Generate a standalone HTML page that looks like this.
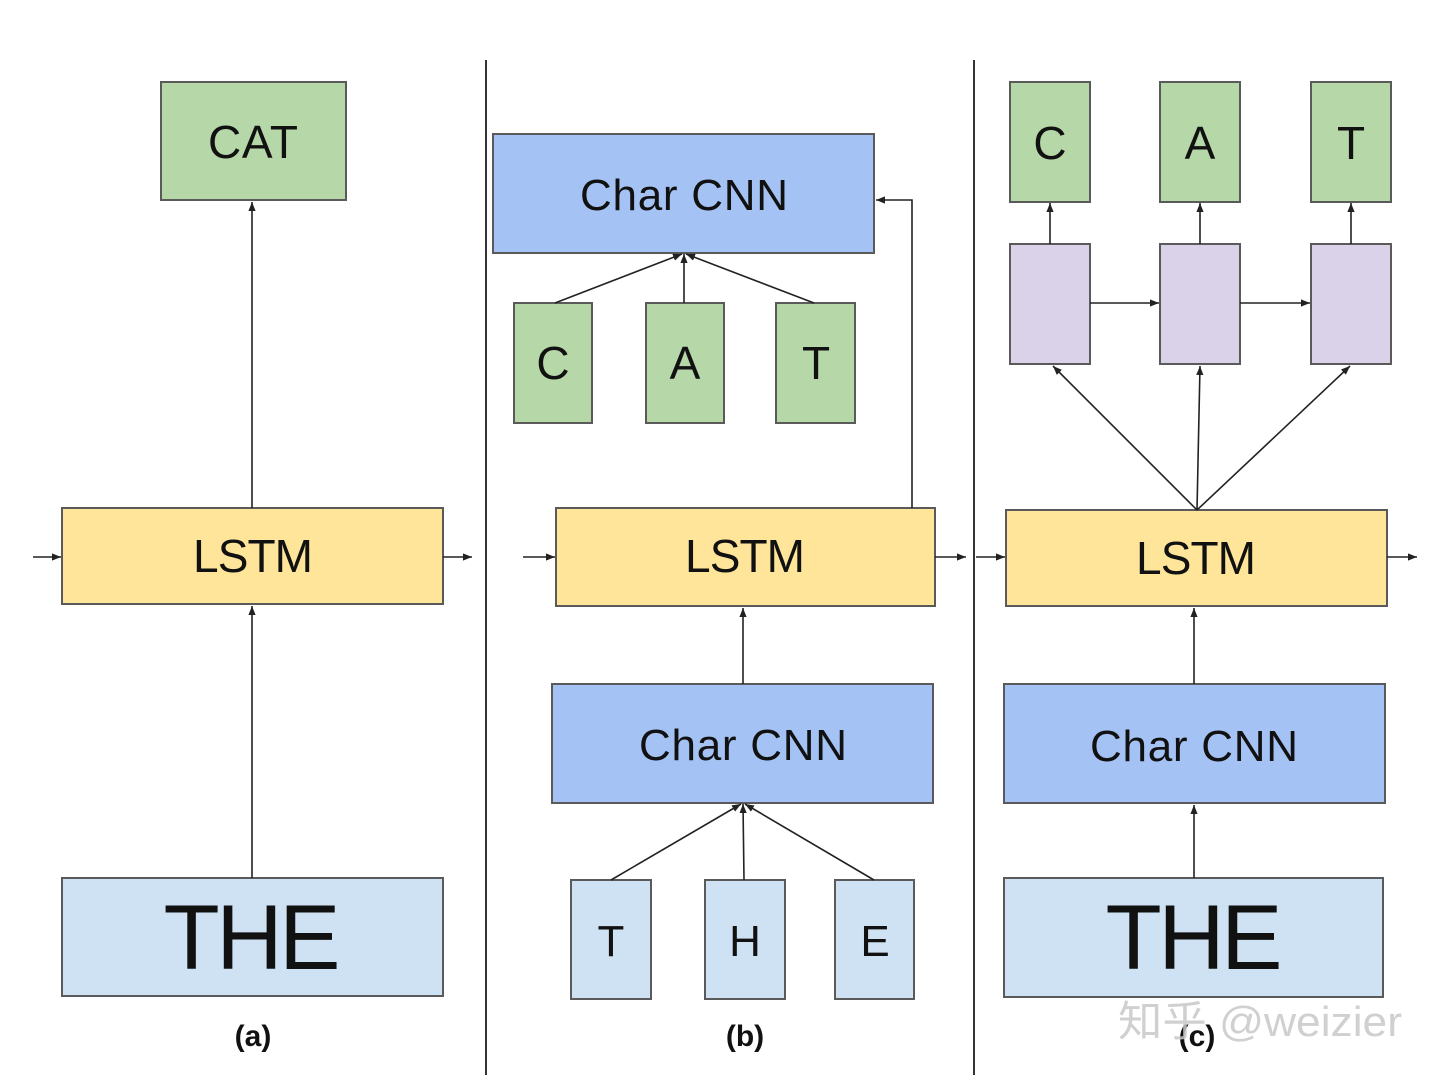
<!DOCTYPE html>
<html><head><meta charset="utf-8"><style>html,body{margin:0;padding:0;background:#fff}svg{display:block}</style></head>
<body>
<svg width="1440" height="1079" viewBox="0 0 1440 1079" xmlns="http://www.w3.org/2000/svg" font-family="Liberation Sans, Arial, sans-serif">
<defs>
<marker id="ah" viewBox="0 0 10 10" refX="10" refY="5" markerWidth="9" markerHeight="9" markerUnits="userSpaceOnUse" orient="auto"><path d="M0,1 L10,5 L0,9 z" fill="#222"/></marker>
</defs>
<g stroke="#5a5a5a" stroke-width="2">
<rect x="161" y="82" width="185" height="118" fill="#b6d7a8"/>
<rect x="62" y="508" width="381" height="96" fill="#ffe599"/>
<rect x="62" y="878" width="381" height="118" fill="#cfe2f3"/>
<rect x="493" y="134" width="381" height="119" fill="#a4c2f4"/>
<rect x="514" y="303" width="78" height="120" fill="#b6d7a8"/>
<rect x="646" y="303" width="78" height="120" fill="#b6d7a8"/>
<rect x="776" y="303" width="79" height="120" fill="#b6d7a8"/>
<rect x="556" y="508" width="379" height="98" fill="#ffe599"/>
<rect x="552" y="684" width="381" height="119" fill="#a4c2f4"/>
<rect x="571" y="880" width="80" height="119" fill="#cfe2f3"/>
<rect x="705" y="880" width="80" height="119" fill="#cfe2f3"/>
<rect x="835" y="880" width="79" height="119" fill="#cfe2f3"/>
<rect x="1010" y="82" width="80" height="120" fill="#b6d7a8"/>
<rect x="1160" y="82" width="80" height="120" fill="#b6d7a8"/>
<rect x="1311" y="82" width="80" height="120" fill="#b6d7a8"/>
<rect x="1010" y="244" width="80" height="120" fill="#d9d2e9"/>
<rect x="1160" y="244" width="80" height="120" fill="#d9d2e9"/>
<rect x="1311" y="244" width="80" height="120" fill="#d9d2e9"/>
<rect x="1006" y="510" width="381" height="96" fill="#ffe599"/>
<rect x="1004" y="684" width="381" height="119" fill="#a4c2f4"/>
<rect x="1004" y="878" width="379" height="119" fill="#cfe2f3"/>
</g>
<g stroke="#333" stroke-width="2">
<line x1="486" y1="60" x2="486" y2="1075"/>
<line x1="974" y1="60" x2="974" y2="1075"/>
</g>
<g stroke="#222" stroke-width="1.6" fill="none" marker-end="url(#ah)">
<line x1="252" y1="508" x2="252" y2="202"/>
<line x1="252" y1="878" x2="252" y2="606"/>
<line x1="33" y1="557" x2="61" y2="557"/>
<line x1="443" y1="557" x2="472" y2="557"/>
<line x1="555" y1="303" x2="682" y2="254"/>
<line x1="684" y1="303" x2="684" y2="254"/>
<line x1="814" y1="303" x2="686" y2="254"/>
<polyline points="912,508 912,200 876,200"/>
<line x1="743" y1="684" x2="743" y2="608"/>
<line x1="523" y1="557" x2="555" y2="557"/>
<line x1="935" y1="557" x2="966" y2="557"/>
<line x1="611" y1="880" x2="741" y2="804"/>
<line x1="744" y1="880" x2="743" y2="804"/>
<line x1="874" y1="880" x2="745" y2="804"/>
<line x1="1050" y1="244" x2="1050" y2="203"/>
<line x1="1200" y1="244" x2="1200" y2="203"/>
<line x1="1351" y1="244" x2="1351" y2="203"/>
<line x1="1090" y1="303" x2="1159" y2="303"/>
<line x1="1240" y1="303" x2="1310" y2="303"/>
<line x1="1197" y1="510" x2="1053" y2="366"/>
<line x1="1197" y1="510" x2="1200" y2="366"/>
<line x1="1197" y1="510" x2="1350" y2="366"/>
<line x1="976" y1="557" x2="1005" y2="557"/>
<line x1="1387" y1="557" x2="1417" y2="557"/>
<line x1="1194" y1="684" x2="1194" y2="608"/>
<line x1="1194" y1="878" x2="1194" y2="805"/>
</g>
<g fill="#111" text-anchor="middle">
<text x="253" y="158" font-size="46" textLength="90">CAT</text>
<text x="253" y="572" font-size="46" textLength="120">LSTM</text>
<text x="252" y="969" font-size="92" textLength="177">THE</text>
<text x="684" y="210" font-size="44" textLength="208">Char CNN</text>
<text x="553" y="379" font-size="46">C</text>
<text x="685" y="379" font-size="46">A</text>
<text x="816" y="379" font-size="46">T</text>
<text x="745" y="572" font-size="46" textLength="120">LSTM</text>
<text x="743" y="760" font-size="44" textLength="208">Char CNN</text>
<text x="611" y="956" font-size="44">T</text>
<text x="745" y="956" font-size="44">H</text>
<text x="875" y="956" font-size="44">E</text>
<text x="1050" y="159" font-size="46">C</text>
<text x="1200" y="159" font-size="46">A</text>
<text x="1351" y="159" font-size="46">T</text>
<text x="1196" y="574" font-size="46" textLength="120">LSTM</text>
<text x="1194" y="761" font-size="44" textLength="208">Char CNN</text>
<text x="1194" y="969" font-size="92" textLength="177">THE</text>
<text x="253" y="1046" font-size="30" font-weight="bold">(a)</text>
<text x="745" y="1046" font-size="30" font-weight="bold">(b)</text>
<text x="1197" y="1046" font-size="30" font-weight="bold">(c)</text>
</g>
<text x="1118" y="1036" font-size="42" fill="#c8c8c8" opacity="0.85" textLength="284" lengthAdjust="spacingAndGlyphs" font-family="Liberation Sans, Noto Sans CJK SC, sans-serif">知乎 @weizier</text>
</svg>
</body></html>
